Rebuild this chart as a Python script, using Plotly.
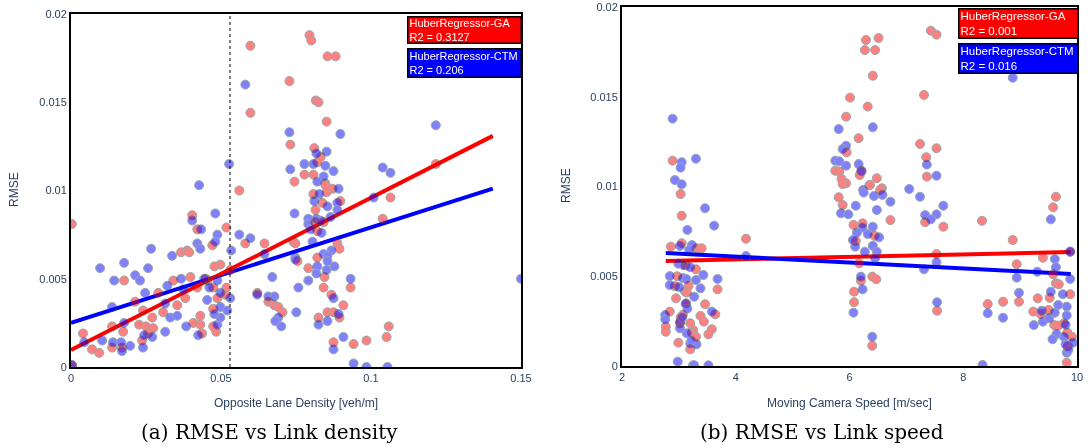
import numpy as np
import plotly.graph_objects as go

# ---------------- data: panel (a) RMSE vs opposite lane density ----------------
density_ga_x = [0.0598, 0.0728, 0.0598, 0.0731, 0.0745, 0.0561, 0.0795, 0.0801, 0.0855, 0.0882,
                0.0816, 0.0825, 0.0852, 0.0811, 0.0832, 0.0821, 0.1216, 0.0778, 0.0808, 0.0848,
                0.0872, 0.0808, 0.0852, 0.1065, 0.0003, 0.0404, 0.0421, 0.0518, 0.0581, 0.0471,
                0.0645, 0.0741, 0.0367, 0.0387, 0.0394, 0.0498, 0.0478, 0.0177, 0.0381, 0.0214,
                0.0354, 0.0307, 0.0271, 0.0240, 0.0431, 0.0408, 0.0431, 0.0227, 0.0250, 0.0274,
                0.0137, 0.0174, 0.0257, 0.0437, 0.0040, 0.0070, 0.0094, 0.0137, 0.0170, 0.0237,
                0.0474, 0.0484, 0.0474, 0.0488, 0.0474, 0.0518, 0.0514, 0.0454, 0.0421, 0.0341,
                0.0291, 0.0621, 0.0658, 0.0678, 0.0691, 0.0705, 0.0848, 0.0838, 0.0898, 0.0815,
                0.0815, 0.0842, 0.0821, 0.1039, 0.0748, 0.0888, 0.0895, 0.0821, 0.0755, 0.0791,
                0.0845, 0.0932, 0.0842, 0.0868, 0.0908, 0.0855, 0.0875, 0.0895, 0.0825, 0.1059,
                0.1052, 0.0985, 0.0875, 0.0942, 0.0003, 0.0531, 0.0398, 0.0450]
density_ga_y = [0.0182, 0.0162, 0.0144, 0.0126, 0.0105, 0.0100, 0.0188, 0.0185, 0.0176, 0.0176,
                0.0151, 0.0150, 0.0139, 0.0124, 0.0119, 0.0116, 0.0115, 0.0109, 0.0109, 0.0104,
                0.0101, 0.0098, 0.0099, 0.0096, 0.0081, 0.0086, 0.0078, 0.0079, 0.0070, 0.0069,
                0.0070, 0.0071, 0.0065, 0.0066, 0.0065, 0.0058, 0.0057, 0.0049, 0.0039, 0.0037,
                0.0035, 0.0031, 0.0028, 0.0032, 0.0029, 0.0025, 0.0024, 0.0024, 0.0023, 0.0022,
                0.0023, 0.0020, 0.0019, 0.0019, 0.0019, 0.0010, 0.0008, 0.0011, 0.0011, 0.0015,
                0.0023, 0.0020, 0.0045, 0.0039, 0.0033, 0.0045, 0.0041, 0.0049, 0.0045, 0.0049,
                0.0042, 0.0042, 0.0037, 0.0035, 0.0034, 0.0031, 0.0103, 0.0093, 0.0094, 0.0089,
                0.0082, 0.0082, 0.0077, 0.0084, 0.0070, 0.0070, 0.0067, 0.0062, 0.0060, 0.0056,
                0.0051, 0.0045, 0.0045, 0.0041, 0.0035, 0.0031, 0.0031, 0.0028, 0.0028, 0.0023,
                0.0017, 0.0015, 0.0014, 0.0013, 0.0001, 0.0055, 0.0051, 0.0050]

density_ctm_x = [0.0581, 0.0728, 0.0527, 0.0731, 0.0427, 0.1216, 0.0898, 0.0852, 0.0818, 0.0778,
                 0.0808, 0.0848, 0.0875, 0.1039, 0.1065, 0.0842, 0.0821, 0.0892, 0.0828, 0.1009,
                 0.0745, 0.0404, 0.0481, 0.0434, 0.0488, 0.0561, 0.0598, 0.0481, 0.0421, 0.0645,
                 0.0267, 0.0337, 0.0431, 0.0534, 0.0748, 0.0177, 0.0257, 0.0097, 0.0214, 0.0230,
                 0.0144, 0.0367, 0.0247, 0.0137, 0.0314, 0.0331, 0.0354, 0.0384, 0.0177, 0.0244,
                 0.0271, 0.0314, 0.0424, 0.0044, 0.0104, 0.0140, 0.0167, 0.0170, 0.0197, 0.0240,
                 0.0003, 0.0488, 0.0498, 0.0488, 0.0498, 0.0498, 0.0521, 0.0531, 0.0444, 0.0461,
                 0.0321, 0.0374, 0.0621, 0.0658, 0.0678, 0.0671, 0.0691, 0.0681, 0.0701, 0.0751,
                 0.0758, 0.0811, 0.0888, 0.0855, 0.0888, 0.0791, 0.0818, 0.0865, 0.0832, 0.0791,
                 0.0798, 0.0835, 0.0805, 0.0868, 0.0842, 0.0855, 0.0748, 0.0855, 0.0821, 0.0852,
                 0.0878, 0.0818, 0.0791, 0.0932, 0.0875, 0.0892, 0.0855, 0.0825, 0.0908, 0.0875,
                 0.0942, 0.0985, 0.1055, 0.1500, 0.0454, 0.0478]
density_ctm_y = [0.0160, 0.0133, 0.0115, 0.0112, 0.0103, 0.0137, 0.0132, 0.0122, 0.0121, 0.0115,
                 0.0115, 0.0114, 0.0111, 0.0113, 0.0110, 0.0108, 0.0105, 0.0101, 0.0098, 0.0096,
                 0.0087, 0.0083, 0.0087, 0.0078, 0.0075, 0.0075, 0.0073, 0.0071, 0.0070, 0.0064,
                 0.0067, 0.0063, 0.0067, 0.0066, 0.0062, 0.0059, 0.0056, 0.0056, 0.0052, 0.0049,
                 0.0049, 0.0050, 0.0042, 0.0034, 0.0036, 0.0028, 0.0029, 0.0023, 0.0025, 0.0018,
                 0.0017, 0.0020, 0.0018, 0.0014, 0.0015, 0.0014, 0.0014, 0.0009, 0.0012, 0.0011,
                 0.0001, 0.0024, 0.0028, 0.0049, 0.0042, 0.0034, 0.0032, 0.0039, 0.0050, 0.0045,
                 0.0046, 0.0044, 0.0041, 0.0040, 0.0040, 0.0051, 0.0028, 0.0026, 0.0023, 0.0031,
                 0.0045, 0.0094, 0.0093, 0.0091, 0.0089, 0.0084, 0.0084, 0.0085, 0.0083, 0.0081,
                 0.0078, 0.0076, 0.0071, 0.0066, 0.0064, 0.0063, 0.0061, 0.0060, 0.0057, 0.0055,
                 0.0057, 0.0053, 0.0049, 0.0050, 0.0039, 0.0030, 0.0026, 0.0024, 0.0017, 0.0010,
                 0.0002, 0.0000, 0.0000, 0.0050, 0.0038, 0.0030]

# ---------------- data: panel (b) RMSE vs moving camera speed ----------------
speed_ga_x = [2.89, 6.01, 5.94, 5.95, 5.75, 5.82, 5.86, 5.94, 7.43, 7.53, 6.29, 6.51, 6.27, 6.45,
              6.41, 7.31, 6.32, 6.16, 7.24, 7.53, 7.35, 6.21, 6.18, 6.48, 7.36, 6.35, 6.57, 5.88,
              6.36, 6.54, 5.81, 5.88, 7.33, 6.72, 7.65, 8.33, 9.63, 9.58, 6.07, 6.23, 6.44, 6.11,
              7.53, 8.87, 6.17, 8.94, 9.40, 9.88, 9.58, 6.20, 6.40, 6.47, 6.08, 6.08, 7.54, 6.40,
              8.43, 8.70, 8.98, 9.63, 9.68, 9.88, 9.31, 9.52, 9.50, 9.23, 9.36, 9.60, 9.77, 9.67,
              9.83, 9.91, 9.84, 9.82, 3.03, 3.05, 4.18, 2.86, 3.05, 3.31, 3.40, 3.12, 3.30, 2.97,
              3.68, 2.93, 3.17, 3.11, 3.14, 2.95, 3.46, 3.13, 2.84, 3.07, 3.64, 3.38, 3.03, 3.02,
              3.20, 3.44, 2.77, 2.77, 3.25, 3.23, 3.58, 3.52, 3.30, 2.99, 3.20]
speed_ga_y = [0.01144, 0.01495, 0.01389, 0.01190, 0.01088, 0.01083, 0.01042, 0.01018, 0.01868,
              0.01846, 0.01816, 0.01827, 0.01760, 0.01760, 0.01617, 0.01510, 0.01445, 0.01269,
              0.01237, 0.01213, 0.01163, 0.01088, 0.01064, 0.01046, 0.01055, 0.01008, 0.00990,
              0.01014, 0.01008, 0.00981, 0.00940, 0.00897, 0.00801, 0.00813, 0.00776, 0.00809,
              0.00943, 0.00884, 0.00786, 0.00795, 0.00725, 0.00696, 0.00624, 0.00702, 0.00572,
              0.00567, 0.00603, 0.00637, 0.00511, 0.00475, 0.00498, 0.00483, 0.00414, 0.00355,
              0.00308, 0.00113, 0.00345, 0.00358, 0.00358, 0.00461, 0.00455, 0.00400, 0.00377,
              0.00380, 0.00312, 0.00303, 0.00290, 0.00228, 0.00238, 0.00225, 0.00186, 0.00163,
              0.00110, 0.00018, 0.00958, 0.00837, 0.00709, 0.00665, 0.00684, 0.00656, 0.00656,
              0.00560, 0.00539, 0.00500, 0.00427, 0.00445, 0.00446, 0.00414, 0.00410, 0.00377,
              0.00344, 0.00350, 0.00303, 0.00285, 0.00288, 0.00279, 0.00270, 0.00238, 0.00238,
              0.00247, 0.00219, 0.00191, 0.00201, 0.00185, 0.00205, 0.00177, 0.00163, 0.00130,
              0.00093]

speed_ctm_x = [2.89, 3.05, 3.03, 3.30, 2.93, 3.05, 5.81, 5.94, 5.88, 5.75, 5.82, 5.94, 8.87, 6.41,
               7.36, 6.16, 6.21, 7.53, 6.24, 7.05, 6.25, 6.43, 6.58, 7.24, 6.72, 6.11, 7.65, 5.85,
               5.98, 6.48, 7.33, 7.53, 7.43, 9.54, 6.23, 6.41, 6.13, 6.32, 6.52, 6.06, 6.10, 6.41,
               6.27, 6.48, 6.45, 7.53, 7.31, 9.88, 9.61, 9.63, 9.30, 8.94, 9.88, 6.20, 6.23, 6.07,
               7.54, 6.40, 8.34, 8.43, 8.70, 8.98, 9.54, 9.75, 9.67, 9.82, 9.38, 9.24, 9.40, 9.51,
               9.61, 9.82, 9.80, 9.64, 9.57, 9.77, 9.93, 9.80, 9.82, 9.85, 3.46, 3.62, 3.15, 3.02,
               3.23, 3.18, 4.18, 3.07, 2.99, 3.20, 3.43, 2.84, 3.07, 3.13, 3.30, 3.68, 2.84, 3.00,
               3.38, 3.27, 3.12, 3.15, 2.76, 3.58, 2.76, 3.02, 3.06, 3.02, 3.14, 3.20, 3.31, 3.22,
               2.98, 3.25, 3.52, 3.27]
speed_ctm_y = [0.01378, 0.01135, 0.01105, 0.01155, 0.01036, 0.01012, 0.01320, 0.01227, 0.01209,
               0.01144, 0.01140, 0.01116, 0.01606, 0.01330, 0.01122, 0.01125, 0.01085, 0.01060,
               0.00981, 0.00986, 0.00966, 0.00947, 0.00953, 0.00943, 0.00915, 0.00893, 0.00893,
               0.00851, 0.00845, 0.00869, 0.00841, 0.00845, 0.00817, 0.00817, 0.00771, 0.00776,
               0.00743, 0.00735, 0.00717, 0.00702, 0.00665, 0.00670, 0.00637, 0.00637, 0.00600,
               0.00578, 0.00539, 0.00637, 0.00596, 0.00550, 0.00525, 0.00492, 0.00485, 0.00498,
               0.00427, 0.00297, 0.00355, 0.00163, 0.00006, 0.00294, 0.00269, 0.00408, 0.00414,
               0.00400, 0.00340, 0.00331, 0.00308, 0.00228, 0.00247, 0.00266, 0.00297, 0.00282,
               0.00230, 0.00178, 0.00149, 0.00163, 0.00130, 0.00120, 0.00074, 0.00090, 0.00879,
               0.00782, 0.00758, 0.00669, 0.00674, 0.00646, 0.00613, 0.00563, 0.00570, 0.00550,
               0.00507, 0.00501, 0.00490, 0.00485, 0.00479, 0.00485, 0.00451, 0.00440, 0.00433,
               0.00386, 0.00345, 0.00320, 0.00284, 0.00303, 0.00260, 0.00245, 0.00270, 0.00210,
               0.00182, 0.00126, 0.00121, 0.00140, 0.00024, 0.00004, 0.00004, 0.00004]

# Huber regression fits: (intercept, slope) and x extent of the fitted line
density_ga_fit = (0.00096, 0.0863)
density_ctm_fit = (0.0025, 0.0541)
density_fit_range = [0.0, 0.1406]
speed_ga_fit = (0.00566, 0.000070)
speed_ctm_fit = (0.00675, -0.000164)
speed_fit_range = [2.77, 9.89]

density_threshold = 0.053

density_r2 = {"GA": "0.3127", "CTM": "0.206"}
speed_r2 = {"GA": "0.001", "CTM": "0.016"}

density_xticks = [0, 0.05, 0.1, 0.15]
speed_xticks = [2, 4, 6, 8, 10]
rmse_yticks = [0, 0.005, 0.01, 0.015, 0.02]

# ---------------- figure ----------------
W, H = 1088, 448
def fx(p):
    return p / W
def fy(p):
    return 1 - p / H

TICK_COLOR = "#2a3f5f"
marker_line = dict(width=1, color="DarkSlateGrey")

fig = go.Figure()

def add_panel(xa, ya, gx, gy, cx, cy, gfit, cfit, frange, red_on_top):
    xs = np.array(frange)
    line_g = go.Scatter(x=xs, y=gfit[0] + gfit[1] * xs, mode="lines",
                        line=dict(color="red", width=4), xaxis=xa, yaxis=ya,
                        showlegend=False, hoverinfo="skip")
    line_c = go.Scatter(x=xs, y=cfit[0] + cfit[1] * xs, mode="lines",
                        line=dict(color="blue", width=4), xaxis=xa, yaxis=ya,
                        showlegend=False, hoverinfo="skip")
    if red_on_top:
        fig.add_trace(line_c)
        fig.add_trace(line_g)
    else:
        fig.add_trace(line_g)
        fig.add_trace(line_c)
    fig.add_trace(go.Scatter(x=gx, y=gy, mode="markers", xaxis=xa, yaxis=ya,
                             marker=dict(color="red", size=9, line=marker_line),
                             opacity=0.5, showlegend=False))
    fig.add_trace(go.Scatter(x=cx, y=cy, mode="markers", xaxis=xa, yaxis=ya,
                             marker=dict(color="blue", size=9, line=marker_line),
                             opacity=0.5, showlegend=False))

add_panel("x", "y", density_ga_x, density_ga_y, density_ctm_x, density_ctm_y,
          density_ga_fit, density_ctm_fit, density_fit_range, True)
add_panel("x2", "y2", speed_ga_x, speed_ga_y, speed_ctm_x, speed_ctm_y,
          speed_ga_fit, speed_ctm_fit, speed_fit_range, False)

axis_common = dict(showgrid=False, zeroline=False, showline=True, mirror=True,
                   linecolor="black", linewidth=2, ticks="",
                   tickfont=dict(size=11, color=TICK_COLOR), automargin=False)

fig.update_layout(
    width=W, height=H,
    margin=dict(l=0, r=0, t=0, b=0, pad=0),
    paper_bgcolor="white", plot_bgcolor="white",
    font=dict(family="Arial, Liberation Sans, sans-serif", color=TICK_COLOR),
    xaxis=dict(domain=[fx(71), fx(521)], range=[0, 0.15], tickvals=density_xticks,
               anchor="y", **axis_common),
    yaxis=dict(domain=[fy(367), fy(14)], range=[0, 0.02], tickvals=rmse_yticks,
               anchor="x", **axis_common),
    xaxis2=dict(domain=[fx(622), fx(1077)], range=[2, 10], tickvals=speed_xticks,
                anchor="y2", **axis_common),
    yaxis2=dict(domain=[fy(366), fy(7)], range=[0, 0.02], tickvals=rmse_yticks,
                anchor="x2", **axis_common),
    shapes=[dict(type="line", xref="x", yref="y", x0=density_threshold, x1=density_threshold,
                 y0=0, y1=0.02, line=dict(color="black", width=1, dash="dot"))],
)

annots = []
# axis titles
annots.append(dict(text="RMSE", x=fx(14), y=fy(190), textangle=-90, font=dict(size=12)))
annots.append(dict(text="RMSE", x=fx(566), y=fy(186), textangle=-90, font=dict(size=12)))
annots.append(dict(text="Opposite Lane Density [veh/m]", x=fx(296), y=fy(403), font=dict(size=12)))
annots.append(dict(text="Moving Camera Speed [m/sec]", x=fx(849), y=fy(403), font=dict(size=12)))
# captions
cap_font = dict(family="DejaVu Serif, Liberation Serif, serif", size=20, color="black")
annots.append(dict(text="(a) RMSE vs Link density", x=fx(269), y=fy(432), font=cap_font))
annots.append(dict(text="(b) RMSE vs Link speed", x=fx(822), y=fy(432), font=cap_font))

# legend boxes
def legend_box(label, r2, color, right, top, width, height, size):
    return dict(text=f"{label}<br>R2 = {r2}", x=fx(right), y=fy(top), xanchor="right",
                yanchor="top", align="left", valign="middle", bgcolor=color,
                bordercolor="black", borderwidth=1.5, borderpad=1, width=width,
                height=height, font=dict(size=size, color="white"))

annots.append(legend_box("HuberRegressor-GA", density_r2["GA"], "red", 522, 16, 110, 23, 11))
annots.append(legend_box("HuberRegressor-CTM", density_r2["CTM"], "blue", 522, 48, 110, 25, 11))
annots.append(legend_box("HuberRegressor-GA", speed_r2["GA"], "red", 1079, 8, 116, 26, 11.5))
annots.append(legend_box("HuberRegressor-CTM", speed_r2["CTM"], "blue", 1079, 43, 116, 26, 11.5))

for a in annots:
    a.setdefault("xref", "paper")
    a.setdefault("yref", "paper")
    a.setdefault("showarrow", False)
    a.setdefault("xanchor", "center")
    a.setdefault("yanchor", "middle")
fig.update_layout(annotations=annots)

fig.write_html("out.html")
